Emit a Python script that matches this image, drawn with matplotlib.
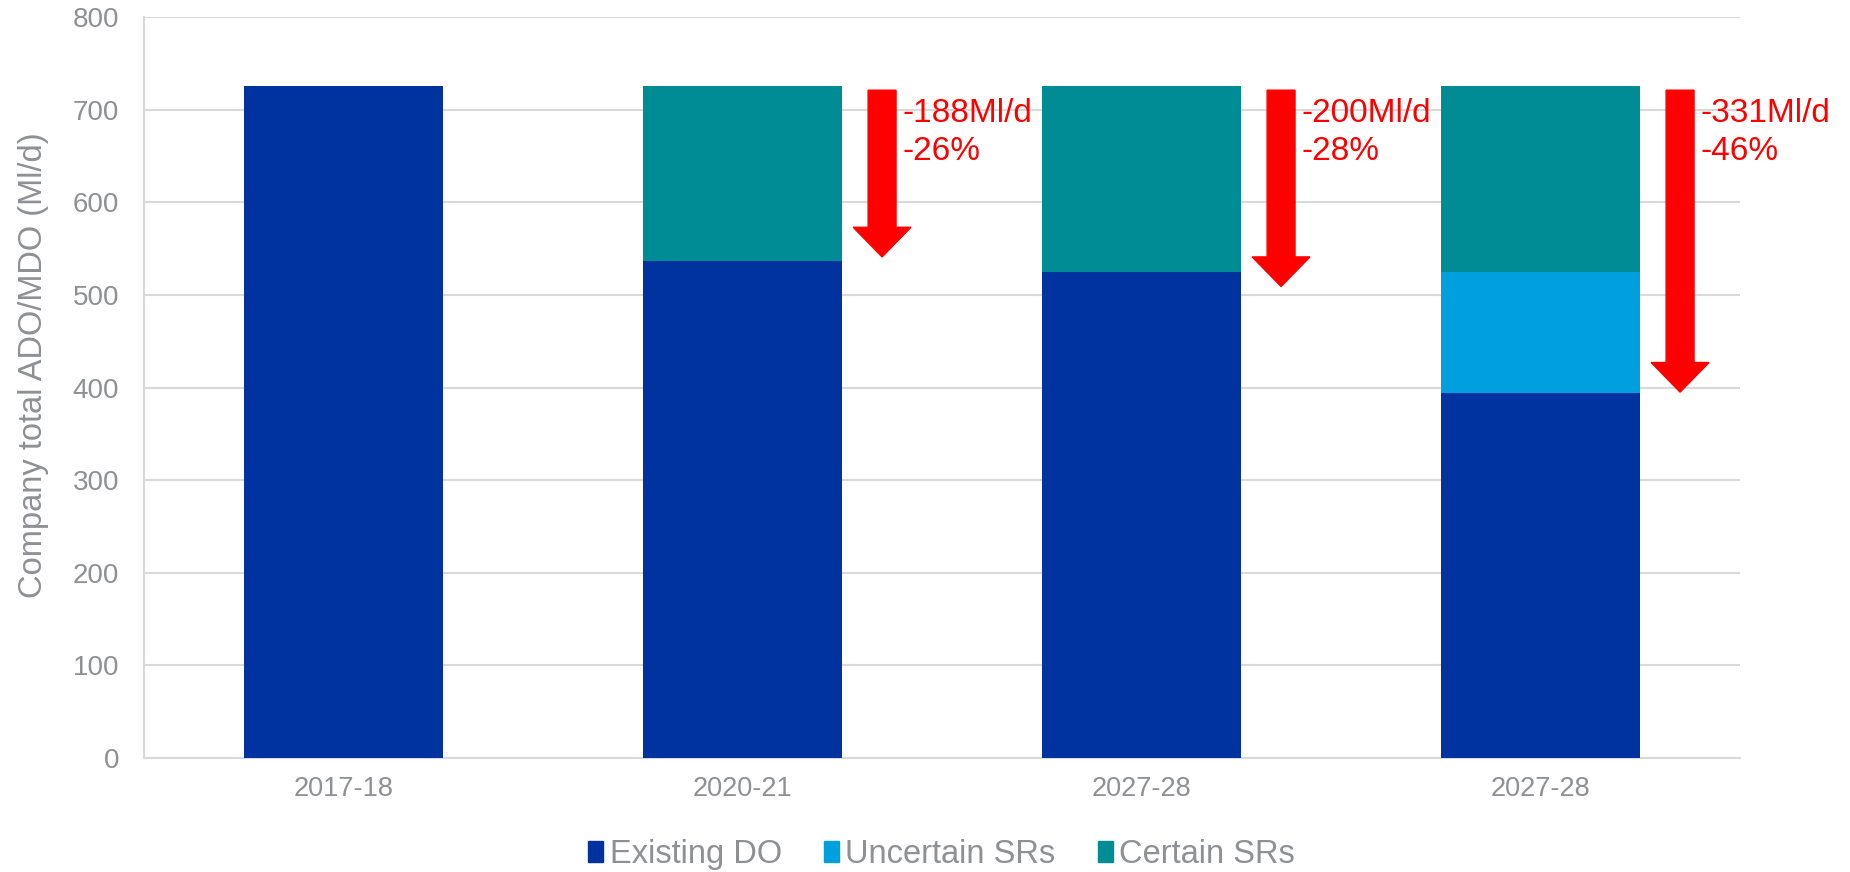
import matplotlib
matplotlib.use('Agg')
import matplotlib.pyplot as plt
from matplotlib.patches import Patch
import numpy as np

categories = ['2017-18', '2020-21', '2027-28', '2027-28']
existing_do = [725, 537, 525, 394]
uncertain_srs = [0, 0, 0, 131]
certain_srs = [0, 188, 200, 200]

# reduction arrows (bar index, top, tip, labels)
arrow_bars = [1, 2, 3]
arrow_top = [721, 721, 721]
arrow_tip = [541, 509, 395]
arrow_text1 = ['-188Ml/d', '-200Ml/d', '-331Ml/d']
arrow_text2 = ['-26%', '-28%', '-46%']

plt.rcParams['font.family'] = ['Liberation Sans', 'DejaVu Sans']
grey = '#8e9093'
c_existing = '#0033a0'
c_uncertain = '#00a0df'
c_certain = '#008c95'

fig = plt.figure(figsize=(18.5, 8.72), dpi=100)
ax = fig.add_axes([0.0778, 0.1307, 0.8627, 0.8498])

x = np.arange(len(categories))
w = 0.5
ax.bar(x, existing_do, width=w, color=c_existing, zorder=3)
ax.bar(x, uncertain_srs, width=w, bottom=existing_do, color=c_uncertain, zorder=3)
bottom2 = np.array(existing_do) + np.array(uncertain_srs)
ax.bar(x, certain_srs, width=w, bottom=bottom2, color=c_certain, zorder=3)

ax.set_xlim(-0.5, 3.5)
ax.set_ylim(0, 800)
ax.set_yticks(range(0, 801, 100))
ax.set_xticks(x)
ax.set_xticklabels(categories)
ax.tick_params(axis='x', length=0, pad=13, labelsize=19.5, labelcolor=grey)
ax.tick_params(axis='y', length=0, pad=18, labelsize=20, labelcolor=grey)
ax.grid(axis='y', color='#d9d9d9', linewidth=1.5, zorder=0)
for s in ['top', 'right']:
    ax.spines[s].set_visible(False)
ax.spines['left'].set_color('#d9d9d9')
ax.spines['left'].set_linewidth(1.5)
ax.spines['bottom'].set_color('#d9d9d9')
ax.spines['bottom'].set_linewidth(1.5)

ax.set_ylabel('Company total ADO/MDO (Ml/d)', fontsize=23.5, color=grey)
ax.yaxis.set_label_coords(-0.0595, 0.53)

for i, b in enumerate(arrow_bars):
    ax.arrow(b + 0.35, arrow_top[i], 0, arrow_tip[i] - arrow_top[i], width=0.07, head_width=0.145,
             head_length=32, length_includes_head=True, color='#ff0000', zorder=4)
    ax.text(b + 0.40, 687, arrow_text1[i], fontsize=24, color='#ff0000', va='baseline')
    ax.text(b + 0.40, 646, arrow_text2[i], fontsize=24, color='#ff0000', va='baseline')

handles = [Patch(color=c_existing, label='Existing DO'),
           Patch(color=c_uncertain, label='Uncertain SRs'),
           Patch(color=c_certain, label='Certain SRs')]
leg = fig.legend(handles=handles, loc='center', bbox_to_anchor=(0.509, 0.02), ncol=3, frameon=False,
                 prop={'size': 23.5}, handlelength=0.45, handleheight=0.6,
                 handletextpad=0.2, columnspacing=1.3)
for t in leg.get_texts():
    t.set_color(grey)

fig.savefig('out.png', dpi=100)
